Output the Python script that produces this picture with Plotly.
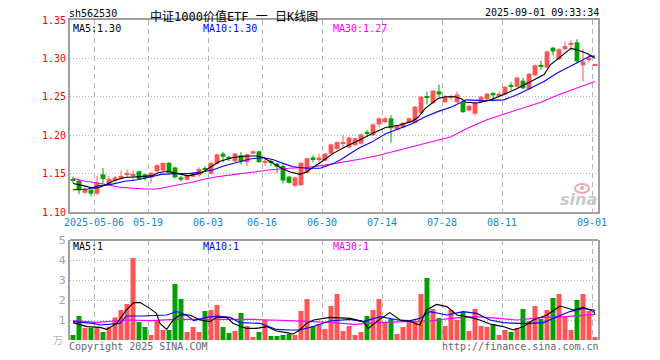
import plotly.graph_objects as go

# ---------------- data ----------------
opens = [1.142, 1.141, 1.125, 1.129, 1.124, 1.149, 1.136, 1.141, 1.143, 1.149,
         1.148, 1.153, 1.149, 1.145, 1.153, 1.154, 1.164, 1.158, 1.145, 1.142,
         1.146, 1.148, 1.157, 1.150, 1.163, 1.176, 1.171, 1.166, 1.174, 1.165,
         1.176, 1.179, 1.165, 1.166, 1.163, 1.160, 1.146, 1.134, 1.135, 1.151,
         1.171, 1.169, 1.167, 1.176, 1.182, 1.189, 1.184, 1.187, 1.189, 1.203,
         1.200, 1.214, 1.217, 1.222, 1.207, 1.210, 1.217, 1.216, 1.229, 1.251,
         1.242, 1.257, 1.243, 1.249, 1.243, 1.243, 1.232, 1.228, 1.243, 1.247,
         1.255, 1.252, 1.253, 1.265, 1.263, 1.271, 1.260, 1.278, 1.290, 1.288,
         1.314, 1.299, 1.312, 1.318, 1.321, 1.291, 1.298, 1.291]
closes = [1.141, 1.128, 1.130, 1.124, 1.138, 1.143, 1.143, 1.145, 1.147, 1.150,
          1.149, 1.143, 1.144, 1.151, 1.161, 1.164, 1.151, 1.145, 1.142, 1.147,
          1.150, 1.156, 1.155, 1.164, 1.175, 1.172, 1.170, 1.176, 1.166, 1.175,
          1.179, 1.165, 1.166, 1.164, 1.159, 1.141, 1.138, 1.145, 1.164, 1.170,
          1.169, 1.171, 1.176, 1.188, 1.191, 1.190, 1.197, 1.196, 1.201, 1.202,
          1.214, 1.222, 1.222, 1.209, 1.213, 1.216, 1.222, 1.237, 1.250, 1.249,
          1.258, 1.253, 1.250, 1.250, 1.253, 1.230, 1.238, 1.242, 1.250, 1.254,
          1.252, 1.254, 1.263, 1.264, 1.275, 1.261, 1.280, 1.291, 1.289, 1.309,
          1.309, 1.312, 1.316, 1.320, 1.296, 1.296, 1.299, 1.292]
highs = [1.146, 1.143, 1.132, 1.130, 1.147, 1.157, 1.147, 1.147, 1.154, 1.155,
         1.154, 1.154, 1.150, 1.152, 1.162, 1.164, 1.165, 1.159, 1.147, 1.148,
         1.152, 1.158, 1.160, 1.165, 1.176, 1.178, 1.173, 1.177, 1.178, 1.176,
         1.180, 1.180, 1.170, 1.168, 1.164, 1.162, 1.147, 1.146, 1.165, 1.171,
         1.174, 1.176, 1.177, 1.189, 1.192, 1.200, 1.198, 1.197, 1.202, 1.207,
         1.215, 1.223, 1.224, 1.226, 1.214, 1.217, 1.223, 1.238, 1.251, 1.257,
         1.259, 1.266, 1.252, 1.253, 1.257, 1.244, 1.240, 1.243, 1.251, 1.255,
         1.256, 1.257, 1.264, 1.269, 1.276, 1.275, 1.281, 1.292, 1.297, 1.310,
         1.315, 1.313, 1.322, 1.324, 1.325, 1.312, 1.305, 1.293]
lows = [1.138, 1.123, 1.124, 1.120, 1.122, 1.137, 1.135, 1.139, 1.142, 1.144,
        1.141, 1.142, 1.141, 1.138, 1.152, 1.153, 1.150, 1.144, 1.140, 1.141,
        1.145, 1.146, 1.152, 1.149, 1.162, 1.165, 1.166, 1.165, 1.162, 1.160,
        1.175, 1.164, 1.160, 1.160, 1.151, 1.137, 1.137, 1.133, 1.134, 1.150,
        1.165, 1.165, 1.166, 1.175, 1.181, 1.184, 1.183, 1.186, 1.188, 1.198,
        1.199, 1.211, 1.216, 1.190, 1.206, 1.209, 1.216, 1.215, 1.228, 1.240,
        1.241, 1.250, 1.242, 1.246, 1.242, 1.229, 1.231, 1.226, 1.242, 1.246,
        1.244, 1.249, 1.252, 1.259, 1.262, 1.260, 1.259, 1.277, 1.285, 1.287,
        1.304, 1.298, 1.311, 1.311, 1.294, 1.270, 1.295, 1.290]
volumes = [0.25, 1.2, 0.6, 0.6, 0.63, 0.4, 0.67, 1.13, 1.5, 1.8,
           4.1, 0.9, 0.65, 0.25, 0.97, 0.5, 0.5, 2.8, 2.05, 0.4,
           0.65, 0.4, 1.45, 1.5, 1.75, 0.65, 0.35, 0.45, 1.35, 0.7,
           0.15, 0.4, 1.0, 0.2, 0.2, 0.25, 0.3, 0.25, 1.45, 2.05,
           0.7, 0.8, 0.55, 1.7, 2.3, 0.45, 0.7, 0.25, 0.4, 1.2,
           1.5, 2.05, 0.9, 1.05, 0.3, 0.65, 0.9, 0.9, 2.3, 3.1,
           1.55, 1.1, 0.7, 1.5, 1.0, 1.4, 0.45, 1.55, 0.7, 0.65,
           0.8, 0.25, 0.5, 0.4, 0.6, 1.55, 0.95, 1.7, 1.05, 1.5,
           2.1, 2.3, 1.2, 0.5, 2.0, 2.3, 1.45, 0.15]

tick_index = [4, 13, 23, 32, 42, 52, 62, 72, 87]
tick_labels = ["2025-05-06", "05-19", "06-03", "06-16", "06-30",
               "07-14", "07-28", "08-11", "09-01"]
price_ticks = [1.10, 1.15, 1.20, 1.25, 1.30, 1.35]
price_tick_labels = ["1.10", "1.15", "1.20", "1.25", "1.30", "1.35"]
vol_ticks = [1, 2, 3, 4, 5]
vol_tick_labels = ["1", "2", "3", "4", "5"]

# price moving averages (candle index, value)
ma5_x = [0, 0.8, 1.9, 3.3, 4.4, 5.6, 6.9, 8.6, 10.3, 11.9, 13.1, 14.2, 15.8, 17.5,
         19.2, 20.8, 21.5, 22.8, 24.5, 26.7, 28.9, 30.6, 31.7, 32.8, 34.5, 36.2,
         37.8, 38.9, 40.1, 41.7, 43.3, 45.4, 47.6, 49.8, 52.1, 54.3, 56.5, 57.6,
         58.7, 59.8, 60.9, 62.1, 63.7, 64.8, 65.5, 67.4, 69.6, 71.8, 74.1, 76.3,
         78.5, 79.6, 81.3, 83.0, 84.1, 85.8, 87.0]
ma5_y = [1.137, 1.136, 1.134, 1.131, 1.132, 1.136, 1.141, 1.145, 1.146, 1.146,
         1.147, 1.151, 1.153, 1.150, 1.147, 1.150, 1.151, 1.158, 1.166, 1.171,
         1.173, 1.173, 1.171, 1.166, 1.158, 1.152, 1.149, 1.152, 1.158, 1.167,
         1.176, 1.185, 1.193, 1.202, 1.210, 1.213, 1.218, 1.224, 1.235, 1.242,
         1.248, 1.250, 1.250, 1.247, 1.243, 1.242, 1.246, 1.253, 1.261, 1.270,
         1.279, 1.292, 1.303, 1.313, 1.311, 1.306, 1.300]
ma10_x = [0, 2.5, 4.2, 6.4, 8.6, 10.8, 12.5, 14.7, 16.9, 19.2, 21.5, 23.4, 25.1,
          27.3, 29.5, 31.7, 33.4, 35.1, 36.7, 38.9, 41.2, 43.4, 44.8, 47.6, 49.8,
          52.1, 54.3, 56.5, 58.7, 60.9, 63.2, 64.8, 65.5, 68.5, 71.8, 74.1, 76.3,
          78.5, 80.7, 82.9, 84.6, 86.2, 87.0]
ma10_y = [1.129, 1.130, 1.134, 1.136, 1.140, 1.142, 1.145, 1.149, 1.150, 1.150,
          1.152, 1.155, 1.160, 1.165, 1.169, 1.171, 1.168, 1.163, 1.159, 1.157,
          1.157, 1.163, 1.169, 1.183, 1.191, 1.202, 1.209, 1.215, 1.224, 1.231,
          1.237, 1.244, 1.246, 1.245, 1.246, 1.253, 1.261, 1.270, 1.281, 1.290,
          1.297, 1.303, 1.303]
ma30_x = [0, 2, 4, 6, 8, 10, 12, 14, 16, 18, 20, 22, 24, 27, 30, 33, 36, 39, 42,
          45, 48, 51, 54, 57, 60, 63, 66, 69, 72, 75, 78, 81, 84, 87]
ma30_y = [1.144, 1.140, 1.138, 1.135, 1.132, 1.131, 1.130, 1.130, 1.133, 1.136,
          1.139, 1.143, 1.146, 1.149, 1.152, 1.155, 1.157, 1.158, 1.161, 1.165,
          1.169, 1.174, 1.180, 1.185, 1.191, 1.198, 1.210, 1.220, 1.228, 1.235,
          1.243, 1.253, 1.262, 1.270]

# volume moving averages
vma5_x = [0, 2.3, 4.5, 5.6, 7.3, 8.9, 10.1, 11.2, 12.8, 13.9, 14.5, 15.6, 16.7,
          17.8, 19.5, 21.2, 22.8, 23.9, 25.6, 26.7, 28.9, 30.6, 32.3, 33.9, 35.6,
          36.7, 37.8, 38.9, 40.1, 42.8, 46.2, 48.4, 49.2, 50.6, 52.8, 54.5, 56.2,
          57.8, 58.9, 60.6, 62.3, 64.0, 66.2, 67.8, 69.5, 71.7, 73.4, 75.1, 76.7,
          79.0, 81.2, 83.4, 85.1, 86.8, 87.0]
vma5_y = [0.87, 0.67, 0.63, 0.53, 0.83, 1.5, 1.87, 1.87, 1.58, 1.33, 0.83, 0.53,
          1.0, 1.25, 1.25, 1.0, 0.92, 1.13, 1.13, 0.83, 0.58, 0.58, 0.67, 0.45,
          0.37, 0.3, 0.5, 0.83, 1.0, 1.13, 1.08, 0.92, 0.58, 0.92, 1.37, 1.0,
          0.92, 0.75, 1.5, 1.78, 1.67, 1.25, 1.13, 1.0, 0.8, 0.67, 0.5, 0.67,
          1.0, 1.25, 1.7, 1.5, 1.63, 1.42, 1.3]
vma10_x = [0, 3.4, 4.5, 7.8, 8.9, 11.7, 15.6, 17.3, 18.9, 20.1, 22.3, 23.9, 26.2,
           27.8, 31.2, 33.9, 36.2, 37.8, 39.5, 42.8, 46.2, 48.4, 51.2, 54.2, 56.2,
           57.8, 59.5, 62.3, 65.0, 67.3, 69.5, 71.7, 73.9, 76.2, 78.4, 80.6, 82.8,
           85.1, 86.8, 87.0]
vma10_y = [0.92, 0.83, 0.75, 0.83, 1.2, 1.2, 1.25, 1.42, 1.25, 0.97, 1.13, 1.2,
           1.13, 0.87, 0.83, 0.53, 0.5, 0.5, 0.63, 0.95, 1.03, 0.92, 1.17, 1.0,
           0.97, 1.08, 1.42, 1.25, 1.42, 1.33, 1.0, 0.87, 0.83, 0.83, 0.87, 1.13,
           1.42, 1.58, 1.5, 1.45]
vma30_x = [0, 4, 9, 13, 17, 21, 27, 30, 36, 42.8, 47, 51, 55, 59.5, 63, 67, 71,
           74, 78, 82, 87]
vma30_y = [0.97, 0.88, 1.0, 0.97, 1.03, 1.03, 1.03, 1.03, 0.97, 0.88, 0.78, 0.87,
           0.92, 0.95, 1.08, 1.17, 1.08, 1.0, 1.12, 1.17, 1.28]

# ---------------- styles ----------------
RED = "#ff5555"
GREEN = "#00a000"
MONO = "DejaVu Sans Mono"
n = len(closes)
idx = list(range(n))
up = [c >= o for o, c in zip(opens, closes)]
colors = [RED if u else GREEN for u in up]

fig = go.Figure()

# wicks
for flag, col in ((True, RED), (False, GREEN)):
    wx, wy = [], []
    for i in idx:
        if up[i] == flag:
            wx += [i, i, None]
            wy += [lows[i], highs[i], None]
    fig.add_trace(go.Scatter(x=wx, y=wy, mode="lines", line=dict(color=col, width=1),
                             hoverinfo="skip", xaxis="x", yaxis="y"))

# bodies
MIN_BODY = 0.0013
base = [min(o, c) for o, c in zip(opens, closes)]
height = [max(abs(c - o), MIN_BODY) for o, c in zip(opens, closes)]
fig.add_trace(go.Bar(x=idx, y=height, base=base, width=0.8,
                     marker=dict(color=colors, line=dict(width=0)),
                     xaxis="x", yaxis="y"))

# price MAs
fig.add_trace(go.Scatter(x=ma30_x, y=ma30_y, mode="lines", line=dict(color="#ff00ff", width=1.1),
                         xaxis="x", yaxis="y"))
fig.add_trace(go.Scatter(x=ma10_x, y=ma10_y, mode="lines", line=dict(color="#0000ff", width=1.1),
                         xaxis="x", yaxis="y"))
fig.add_trace(go.Scatter(x=ma5_x, y=ma5_y, mode="lines", line=dict(color="#000000", width=1.1),
                         xaxis="x", yaxis="y"))

# volume
fig.add_trace(go.Bar(x=idx, y=volumes, width=0.83,
                     marker=dict(color=colors, line=dict(width=0)),
                     xaxis="x2", yaxis="y2"))
fig.add_trace(go.Scatter(x=vma30_x, y=vma30_y, mode="lines", line=dict(color="#ff00ff", width=1.1),
                         xaxis="x2", yaxis="y2"))
fig.add_trace(go.Scatter(x=vma10_x, y=vma10_y, mode="lines", line=dict(color="#0000ff", width=1.1),
                         xaxis="x2", yaxis="y2"))
fig.add_trace(go.Scatter(x=vma5_x, y=vma5_y, mode="lines", line=dict(color="#000000", width=1.1),
                         xaxis="x2", yaxis="y2"))

GRID = "#b4b4b4"
xr = [-0.5, n - 0.5]
tickpos = [t - 0.5 for t in tick_index]

# the page body has an 8px margin, so the figure is 8px smaller than the window
fig.update_layout(
    width=652, height=352,
    margin=dict(l=62, r=62, t=12, b=20, autoexpand=False),
    paper_bgcolor="white", plot_bgcolor="white",
    showlegend=False, barmode="overlay",
    xaxis=dict(domain=[0, 1], anchor="y", range=xr, tickmode="array", tickvals=tickpos,
               ticktext=tick_labels, tickfont=dict(family=MONO, size=10, color="#1a86d0"),
               showgrid=True, gridcolor=GRID, griddash="5px,4px", gridwidth=1,
               showline=True, mirror=True, linecolor="#a0a0a0", linewidth=2,
               zeroline=False, ticks="", fixedrange=True, automargin=False),
    yaxis=dict(domain=[0.4, 1], anchor="x", range=[1.10, 1.35], tickmode="array",
               tickvals=price_ticks, ticktext=price_tick_labels,
               tickfont=dict(family=MONO, size=10, color="#ff0000"),
               showgrid=True, gridcolor=GRID, griddash="1px,2px",
               showline=True, mirror=True, linecolor="#a0a0a0", linewidth=2,
               zeroline=False, ticks="", automargin=False),
    xaxis2=dict(domain=[0, 1], anchor="y2", range=xr, tickmode="array", tickvals=tickpos,
                showticklabels=False, showgrid=True, gridcolor=GRID, griddash="5px,4px",
                showline=False, zeroline=False, ticks="", automargin=False),
    yaxis2=dict(domain=[0, 0.3125], anchor="x2", range=[0, 5], tickmode="array",
                tickvals=vol_ticks, ticktext=vol_tick_labels,
                tickfont=dict(family="DejaVu Sans", size=11, color="#a0a0a0"),
                showgrid=True, gridcolor=GRID, griddash="1px,2px",
                showline=True, mirror=True, linecolor="#a0a0a0", linewidth=2,
                zeroline=False, ticks="", automargin=False),
)

fig.add_shape(type="line", xref="x2 domain", yref="y2 domain", x0=0, x1=1, y0=1, y1=1,
              line=dict(color="#a0a0a0", width=2))


def px(x):
    return (x - 70) / 528


def py(y):
    return (340 - y) / 320


def label(text, x, y, color, size=10, family=MONO, anchor="left", **kw):
    fig.add_annotation(text=text, x=px(x), y=py(y), xref="paper", yref="paper",
                       xanchor=anchor, yanchor="middle", showarrow=False, borderpad=0,
                       font=dict(family=family, size=size, color=color), **kw)


# small sina eye logo above the watermark text
fig.add_shape(type="circle", xref="paper", yref="paper",
              x0=px(575), x1=px(589), y0=py(193), y1=py(184),
              line=dict(color="#f2a8a8", width=2), fillcolor="rgba(0,0,0,0)")
fig.add_shape(type="circle", xref="paper", yref="paper",
              x0=px(580), x1=px(584), y0=py(190), y1=py(186),
              line=dict(width=0), fillcolor="#d8b0b0")

NB = "\u00a0"
label("sh562530", 68, 14, "#000000", 10)
# title: anchored by its top edge at the figure's top so it is not clipped
fig.add_annotation(text="中证1000价值ETF" + NB + "一" + NB + "日K线图",
                   x=px(149), y=1.0 + 12 / 320, xref="paper", yref="paper",
                   xanchor="left", yanchor="top", showarrow=False, borderpad=0,
                   font=dict(family="DejaVu Sans Mono, Noto Sans CJK SC", size=12,
                             color="#000000"))
label("2025-09-01 09:33:34", 600, 13, "#000000", 10, anchor="right")
label("MA5:1.30", 72, 28.5, "#000000", 10)
label("MA10:1.30", 202, 28.5, "#0000ff", 10)
label("MA30:1.27", 332, 28.5, "#ff00ff", 10)
label("MA5:1", 72, 246, "#000000", 10)
label("MA10:1", 202, 246, "#0000ff", 10)
label("MA30:1", 332, 246, "#ff00ff", 10)
label("万", 58, 339, "#b0b0b0", 10, family="Noto Sans CJK SC", anchor="center")
label("Copyright 2025 SINA.COM", 68, 346, "#666666", 10)
label("http://finance.sina.com.cn", 600, 346, "#666666", 10, anchor="right")
label("<b><i>sina</i></b>", 598, 199, "#c8c8c8", 16, family="DejaVu Sans", anchor="right")

fig.write_html("out.html")
